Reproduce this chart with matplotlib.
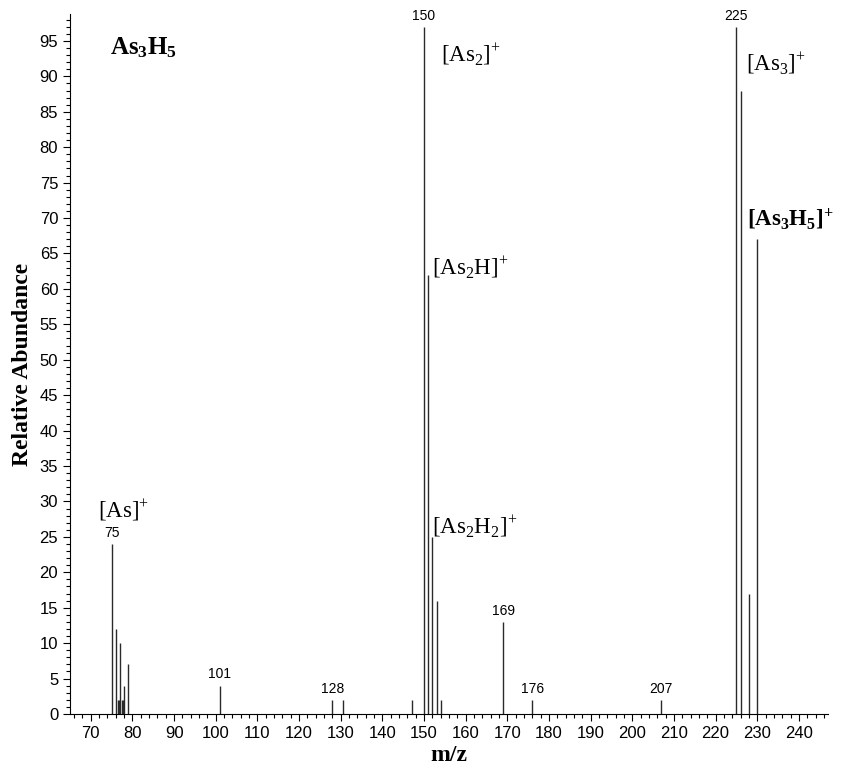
import matplotlib
matplotlib.use("Agg")
import matplotlib.pyplot as plt
from matplotlib.ticker import MultipleLocator

mz = [75, 76, 76.5, 76.7, 77, 77.5, 77.7, 78, 79, 101, 128, 130.6, 147,
      150, 151, 152, 153, 154, 169, 176, 207, 225, 226, 228, 230]
abund = [24, 12, 2, 2, 10, 2, 2, 4, 7, 4, 2, 2, 2,
         97, 62, 25, 16, 2, 13, 2, 2, 97, 88, 17, 67]
peak_labels = [75, 101, 128, 150, 169, 176, 207, 225]

ion_text = [r"[As]$^{+}$", r"[As$_2$]$^{+}$", r"[As$_2$H]$^{+}$", r"[As$_2$H$_2$]$^{+}$",
            r"[As$_3$]$^{+}$", r"$\mathbf{[As_3H_5]^{+}}$"]
ion_x = [71.8, 154.0, 151.9, 151.9, 227.4, 227.6]
ion_y = [28.8, 93.0, 63.0, 26.5, 91.8, 69.8]

xticks = list(range(70, 250, 10))
yticks = list(range(0, 100, 5))

plt.rcParams['mathtext.fontset'] = 'custom'
plt.rcParams['mathtext.rm'] = 'Liberation Serif'
plt.rcParams['mathtext.bf'] = 'Liberation Serif:bold'

sans = ['Liberation Sans Narrow', 'Liberation Sans', 'DejaVu Sans']

fig = plt.figure(figsize=(8.43, 7.72), dpi=100)
ax = fig.add_axes([70/843, 58/772, (828-70)/843, (714-14)/772])

ax.vlines(mz, 0, abund, colors='#2a2a2a', linewidth=1.0)

for m, a in zip(mz, abund):
    if m in peak_labels:
        ax.text(m, a + 0.6, str(m), ha='center', va='bottom', fontsize=10, family=sans)

for t, x, y in zip(ion_text, ion_x, ion_y):
    ax.text(x, y, t, ha='left', va='center', fontsize=16.5, family='Liberation Serif')

ax.text(74.5, 94, r"$\mathbf{As_3H_5}$", ha='left', va='center', fontsize=18)

ax.set_xlim(65, 247)
ax.set_ylim(0, 98.8)
ax.set_xticks(xticks)
ax.set_yticks(yticks)
ax.xaxis.set_minor_locator(MultipleLocator(2))
ax.yaxis.set_minor_locator(MultipleLocator(1))
ax.tick_params(axis='both', which='major', direction='out', length=5, width=0.8,
               labelsize=12)
ax.tick_params(axis='both', which='minor', direction='out', length=3, width=0.8)
for lab in ax.get_xticklabels() + ax.get_yticklabels():
    lab.set_family(sans)

for s in ['top', 'right']:
    ax.spines[s].set_visible(False)

ax.set_xlabel('m/z', fontsize=17, fontweight='bold', family='Liberation Serif', labelpad=3)
ax.set_ylabel('Relative Abundance', fontsize=17, fontweight='bold', family='Liberation Serif',
              labelpad=5)

fig.savefig('out.png', dpi=100)
